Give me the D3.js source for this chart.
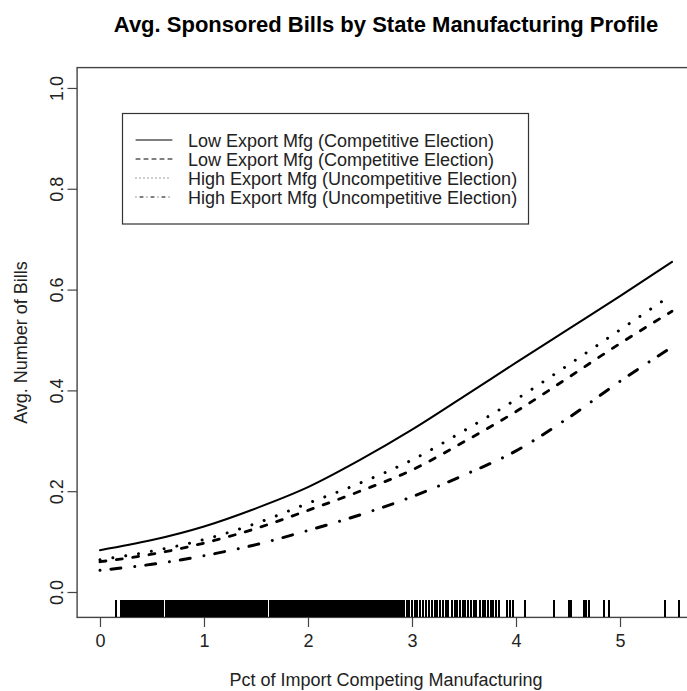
<!DOCTYPE html>
<html>
<head>
<meta charset="utf-8">
<script src="https://cdn.jsdelivr.net/npm/d3@7"></script>
<style>
  body { margin: 0; background: #fff; }
  svg { display: block; }
  text { font-family: "Liberation Sans", Arial, sans-serif; }
</style>
</head>
<body>
<svg id="chart" width="687" height="691"></svg>
<script>
// Predicted average number of sponsored bills along the import-competing share
const pctImport = [0, 0.5, 1, 1.5, 2, 2.5, 3, 3.5, 4, 4.5, 5, 5.5];
const lowExportComp    = [0.083, 0.103, 0.130, 0.166, 0.208, 0.262, 0.322, 0.388, 0.455, 0.521, 0.587, 0.655];
const lowExportComp2   = [0.060, 0.075, 0.097, 0.126, 0.162, 0.200, 0.242, 0.298, 0.358, 0.425, 0.493, 0.557];
const highExportUncomp = [0.064, 0.081, 0.104, 0.136, 0.176, 0.216, 0.262, 0.320, 0.382, 0.450, 0.520, 0.590];
const highExportUncomp2= [0.043, 0.055, 0.072, 0.094, 0.122, 0.153, 0.189, 0.232, 0.280, 0.345, 0.418, 0.486];

const legendLabels = [
  "Low Export Mfg (Competitive Election)",
  "Low Export Mfg (Competitive Election)",
  "High Export Mfg (Uncompetitive Election)",
  "High Export Mfg (Uncompetitive Election)"
];

const xTicks = [0, 1, 2, 3, 4, 5];
const yTicks = [0, 0.2, 0.4, 0.6, 0.8, 1.0];

// Observed import-competing shares (rug)
const rugPct = [
  0.15,
  0.20,0.21,0.22,0.23,0.24,0.25,0.26,0.27,0.28,0.29,
  0.30,0.31,0.32,0.33,0.34,0.35,0.37,0.38,0.39,
  0.41,0.43,0.44,0.46,0.47,0.49,
  0.50,0.52,0.53,0.54,0.55,0.56,0.57,0.58,0.59,
  0.60,0.61,0.63,0.64,0.65,0.67,0.68,0.69,
  0.70,0.71,0.72,0.73,0.75,0.76,0.77,0.78,0.79,
  0.80,0.81,0.82,0.83,0.84,0.85,0.86,0.87,0.88,0.89,
  0.91,0.92,0.93,0.94,0.95,0.96,0.98,0.99,
  1.00,1.01,1.02,1.03,1.04,1.05,1.06,1.07,1.08,1.09,
  1.10,1.11,1.12,1.13,1.14,1.15,1.16,1.17,1.18,1.19,
  1.20,1.21,1.22,1.23,1.24,1.25,1.26,1.27,1.28,1.29,
  1.30,1.31,1.32,1.33,1.34,1.35,1.36,1.37,1.38,1.39,
  1.40,1.41,1.42,1.43,1.44,1.45,1.47,1.48,1.49,
  1.50,1.51,1.52,1.53,1.54,1.55,1.56,1.57,1.58,1.59,
  1.60,1.61,1.63,1.64,1.65,1.66,1.67,1.68,1.69,
  1.70,1.71,1.72,1.73,1.74,1.75,1.76,1.77,1.78,1.79,
  1.80,1.81,1.82,1.83,1.84,1.85,1.86,1.87,1.88,1.89,
  1.90,1.91,1.92,1.93,1.94,1.95,1.96,1.97,1.98,1.99,
  2.00,2.02,2.03,2.04,2.05,2.06,2.07,2.08,2.09,
  2.10,2.11,2.12,2.13,2.14,2.15,2.16,2.17,2.18,2.19,
  2.20,2.21,2.22,2.23,2.24,2.25,2.26,2.27,2.28,2.29,
  2.31,2.32,2.33,2.34,2.35,2.36,2.37,2.38,2.39,
  2.40,2.41,2.42,2.43,2.44,2.45,2.46,2.47,2.48,2.49,
  2.50,2.51,2.52,2.53,2.54,2.55,2.56,2.57,2.58,
  2.60,2.61,2.62,2.63,2.64,2.65,2.66,2.67,2.68,2.69,
  2.70,2.71,2.72,2.73,2.74,2.75,2.76,2.77,2.78,2.79,
  2.80,2.81,2.82,2.83,2.84,2.85,2.86,2.87,2.88,
  2.90,2.92,2.95,2.97,3.00,3.03,3.05,3.08,3.11,3.13,3.16,3.19,
  3.22,3.24,3.27,3.30,3.33,3.35,3.38,3.41,3.43,3.46,3.49,
  3.51,3.54,3.57,3.60,3.62,3.65,3.68,3.70,3.73,3.76,3.78,3.81,3.84,
  3.91,3.94,3.97,4.09,4.37,4.51,4.53,4.65,4.67,4.70,
  4.85,4.89,5.43,5.57
];

const series = [
  { values: lowExportComp,     width: 2,   dash: null },
  { values: lowExportComp2,    width: 2.8, dash: "6,10.5" },
  { values: highExportUncomp,  width: 3,   dash: "0.01,13" },
  { values: highExportUncomp2, width: 3,   dash: "0.01,11,10,14" }
];
// legend samples use thin lines with the unscaled patterns
const legendDash = [null, "4,4", "0.01,3.99", "0.01,3.99,3,4"];

const svg = d3.select("#chart");
const ink = "#222";

const x = d3.scaleLinear().domain([-0.22, 5.72]).range([77.1, 694.9]);
const y = d3.scaleLinear().domain([-0.0504, 1.0404]).range([617.4, 67.6]);

const [x0, x1] = x.range();
const [yb, yt] = y.range();

// plot frame
svg.append("rect")
  .attr("x", x0).attr("y", yt)
  .attr("width", x1 - x0).attr("height", yb - yt)
  .attr("fill", "none").attr("stroke", "#444").attr("stroke-width", 1.4);

// x axis
const xAxis = svg.append("g")
  .attr("transform", `translate(0,${yb})`)
  .call(d3.axisBottom(x).tickValues(xTicks).tickSize(9.6).tickPadding(7.5).tickFormat(d3.format("d")));
xAxis.select(".domain").remove();
xAxis.selectAll("line").attr("stroke", "#444").attr("stroke-width", 1.2);
xAxis.selectAll("text").attr("font-size", 18).attr("fill", ink)
  .style("font-family", '"Liberation Sans", Arial, sans-serif');

// y axis, labels turned parallel to the axis
const yAxis = svg.append("g")
  .attr("transform", `translate(${x0},0)`)
  .call(d3.axisLeft(y).tickValues(yTicks).tickSize(9.6).tickFormat(d3.format(".1f")));
yAxis.select(".domain").remove();
yAxis.selectAll("line").attr("stroke", "#444").attr("stroke-width", 1.2);
yAxis.selectAll("text")
  .attr("x", null).attr("dy", null)
  .attr("text-anchor", "middle")
  .attr("transform", "translate(-14.6,0) rotate(-90)")
  .attr("font-size", 18).attr("fill", ink)
  .style("font-family", '"Liberation Sans", Arial, sans-serif');

// rug of observed values along the bottom of the plot
svg.append("g").selectAll("line")
  .data(rugPct)
  .join("line")
  .attr("x1", d => x(d)).attr("x2", d => x(d))
  .attr("y1", yb).attr("y2", yb - 17)
  .attr("stroke", "#000").attr("stroke-width", 2)
  .attr("shape-rendering", "crispEdges");

// prediction curves
const line = d3.line()
  .x((d, i) => x(pctImport[i]))
  .y(d => y(d))
  .curve(d3.curveMonotoneX);

svg.append("g").selectAll("path")
  .data(series)
  .join("path")
  .attr("d", d => line(d.values))
  .attr("fill", "none")
  .attr("stroke", "#000")
  .attr("stroke-width", d => d.width)
  .attr("stroke-linecap", "round")
  .attr("stroke-dasharray", d => d.dash);

// legend
const legend = svg.append("g");
legend.append("rect")
  .attr("x", 122.5).attr("y", 113.5).attr("width", 406).attr("height", 110.5)
  .attr("fill", "#fff").attr("stroke", "#333").attr("stroke-width", 1.2);
const rows = legend.selectAll("g.row")
  .data(legendLabels)
  .join("g").attr("class", "row")
  .attr("transform", (d, i) => `translate(0,${140 + 19 * i})`);
rows.append("line")
  .attr("x1", 136).attr("x2", 172).attr("y1", 0).attr("y2", 0)
  .attr("stroke", "#000").attr("stroke-width", 1)
  .attr("stroke-linecap", "round")
  .attr("stroke-dasharray", (d, i) => legendDash[i]);
rows.append("text")
  .attr("x", 188).attr("y", 6.5)
  .attr("font-size", 18).attr("fill", ink)
  .text(d => d);

// titles
svg.append("text")
  .attr("x", (x0 + x1) / 2).attr("y", 32)
  .attr("text-anchor", "middle")
  .attr("font-size", 22).attr("font-weight", "bold").attr("fill", "#000")
  .text("Avg. Sponsored Bills by State Manufacturing Profile");

svg.append("text")
  .attr("x", (x0 + x1) / 2).attr("y", 686)
  .attr("text-anchor", "middle")
  .attr("font-size", 18).attr("fill", ink)
  .text("Pct of Import Competing Manufacturing");

svg.append("text")
  .attr("transform", `translate(27,${(yb + yt) / 2}) rotate(-90)`)
  .attr("text-anchor", "middle")
  .attr("font-size", 18).attr("fill", ink)
  .text("Avg. Number of Bills");
</script>
</body>
</html>
